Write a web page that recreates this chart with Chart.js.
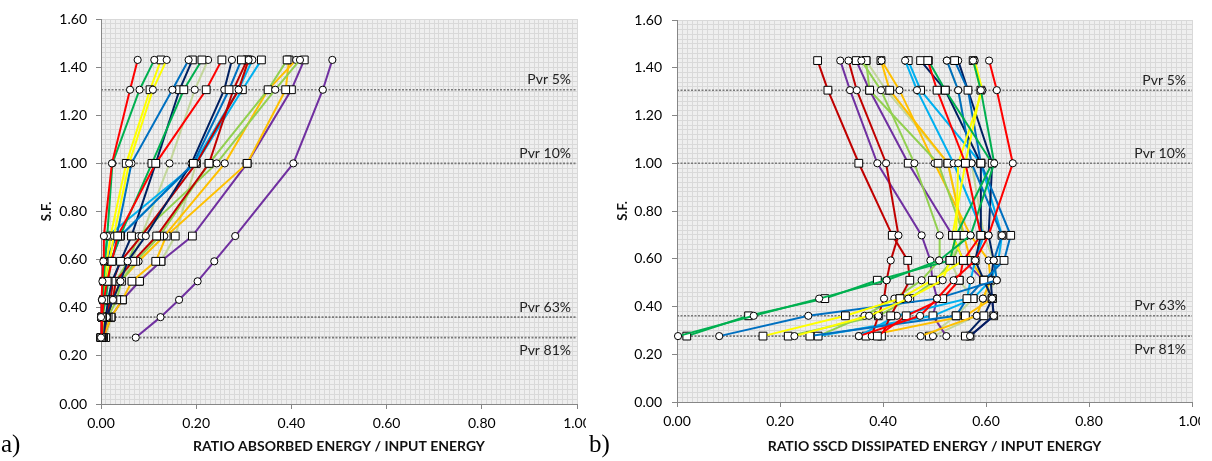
<!DOCTYPE html>
<html>
<head>
<meta charset="utf-8">
<script src="https://cdn.jsdelivr.net/npm/chart.js@4.4.1/dist/chart.umd.min.js"></script>
<style>
  body { margin: 0; background: #fff; width: 1212px; height: 461px; position: relative; overflow: hidden; }
  .box { position: absolute; top: 0; height: 461px; overflow: hidden; }
  #leftBox { left: 0; width: 586px; }
  #rightBox { left: 600px; width: 600px; }
  .tag { position: absolute; top: 430px; font-family: "Liberation Serif", serif; font-size: 25px; color: #000; }
</style>
</head>
<body>
<div class="box" id="leftBox"><canvas id="absorbedChart" width="600" height="461"></canvas></div>
<div class="box" id="rightBox"><canvas id="dissipatedChart" width="612" height="461"></canvas></div>
<div class="tag" style="left:1px">a)</div>
<div class="tag" style="left:589px">b)</div>
<script>
// S.F. levels of the analyses (y of every point)
const sfLevels = [0.276, 0.361, 0.433, 0.51, 0.593, 0.698, 1.0, 1.306, 1.43];

// probability of exceedance lines
const pvrLevels = [1.306, 1.0, 0.361, 0.276];
const pvrLabels = ["Pvr 5%", "Pvr 10%", "Pvr 63%", "Pvr 81%"];

// one colour / marker per structure
const seriesColor = [
  "#FF0000", "#FF0000", "#00B050", "#00B050", "#FFFF00", "#FFFF00",
  "#0070C0", "#0070C0", "#002060", "#002060", "#C00000", "#C00000",
  "#00B0F0", "#00B0F0", "#92D050", "#92D050", "#FFC000", "#FFC000",
  "#7030A0", "#7030A0", "#C3D69B", "#C3D69B"
];
const seriesMarker = seriesColor.map((_, i) => (i % 2 === 0 ? "circle" : "rect"));

// a) absorbed energy / input energy
const absorbedRatio = [
  [0.000, 0.000, 0.002, 0.003, 0.005, 0.006, 0.023, 0.061, 0.077],
  [0.000, 0.002, 0.006, 0.013, 0.023, 0.035, 0.115, 0.221, 0.254],
  [0.000, 0.002, 0.004, 0.006, 0.008, 0.013, 0.024, 0.081, 0.112],
  [0.000, 0.002, 0.010, 0.015, 0.021, 0.040, 0.107, 0.174, 0.212],
  [0.002, 0.004, 0.008, 0.012, 0.018, 0.027, 0.059, 0.109, 0.138],
  [0.000, 0.002, 0.005, 0.008, 0.012, 0.020, 0.053, 0.103, 0.126],
  [0.000, 0.000, 0.002, 0.006, 0.010, 0.033, 0.064, 0.150, 0.184],
  [0.000, 0.003, 0.008, 0.013, 0.020, 0.041, 0.194, 0.269, 0.295],
  [0.003, 0.012, 0.025, 0.041, 0.056, 0.094, 0.190, 0.259, 0.275],
  [0.003, 0.010, 0.015, 0.023, 0.041, 0.064, 0.115, 0.165, 0.192],
  [0.002, 0.010, 0.020, 0.025, 0.041, 0.085, 0.200, 0.289, 0.310],
  [0.005, 0.012, 0.025, 0.031, 0.067, 0.117, 0.227, 0.278, 0.307],
  [0.000, 0.002, 0.004, 0.008, 0.020, 0.040, 0.196, 0.289, 0.318],
  [0.000, 0.002, 0.005, 0.006, 0.008, 0.014, 0.200, 0.297, 0.337],
  [0.002, 0.012, 0.025, 0.031, 0.057, 0.079, 0.243, 0.366, 0.418],
  [0.003, 0.015, 0.033, 0.043, 0.073, 0.123, 0.227, 0.351, 0.391],
  [0.002, 0.012, 0.025, 0.041, 0.079, 0.133, 0.260, 0.351, 0.410],
  [0.005, 0.021, 0.045, 0.065, 0.115, 0.137, 0.307, 0.388, 0.395],
  [0.073, 0.125, 0.164, 0.203, 0.238, 0.282, 0.404, 0.466, 0.486],
  [0.005, 0.021, 0.045, 0.081, 0.126, 0.192, 0.307, 0.400, 0.427],
  [0.005, 0.012, 0.025, 0.043, 0.065, 0.085, 0.144, 0.197, 0.225],
  [0.010, 0.021, 0.045, 0.080, 0.126, 0.156, 0.200, 0.289, 0.310]
];

// b) SSCD dissipated energy / input energy
const dissipatedRatio = [
  [0.353, 0.472, 0.505, 0.537, 0.579, 0.605, 0.652, 0.621, 0.606],
  [0.389, 0.445, 0.516, 0.548, 0.556, 0.590, 0.560, 0.505, 0.487],
  [0.002, 0.149, 0.276, 0.407, 0.509, 0.570, 0.616, 0.590, 0.575],
  [0.019, 0.139, 0.287, 0.389, 0.530, 0.542, 0.612, 0.521, 0.488],
  [0.228, 0.373, 0.449, 0.516, 0.530, 0.542, 0.546, 0.593, 0.578],
  [0.167, 0.327, 0.433, 0.496, 0.556, 0.535, 0.560, 0.590, 0.575],
  [0.082, 0.255, 0.505, 0.621, 0.615, 0.631, 0.572, 0.546, 0.524],
  [0.258, 0.542, 0.563, 0.596, 0.635, 0.648, 0.590, 0.565, 0.539],
  [0.569, 0.615, 0.612, 0.609, 0.615, 0.605, 0.612, 0.565, 0.546],
  [0.560, 0.596, 0.612, 0.596, 0.579, 0.590, 0.590, 0.521, 0.473],
  [0.378, 0.391, 0.402, 0.407, 0.415, 0.430, 0.406, 0.349, 0.333],
  [0.397, 0.415, 0.433, 0.452, 0.448, 0.418, 0.353, 0.293, 0.273],
  [0.353, 0.427, 0.563, 0.570, 0.579, 0.596, 0.537, 0.466, 0.443],
  [0.274, 0.497, 0.575, 0.609, 0.624, 0.631, 0.590, 0.473, 0.449],
  [0.274, 0.364, 0.422, 0.475, 0.509, 0.510, 0.461, 0.396, 0.358],
  [0.216, 0.391, 0.452, 0.502, 0.535, 0.557, 0.507, 0.374, 0.367],
  [0.473, 0.582, 0.594, 0.609, 0.605, 0.570, 0.500, 0.432, 0.397],
  [0.367, 0.560, 0.612, 0.596, 0.570, 0.557, 0.526, 0.413, 0.396],
  [0.523, 0.497, 0.505, 0.496, 0.492, 0.475, 0.389, 0.336, 0.317],
  [0.569, 0.615, 0.612, 0.596, 0.556, 0.535, 0.449, 0.374, 0.348],
  [0.497, 0.582, 0.594, 0.621, 0.615, 0.596, 0.572, 0.546, 0.524],
  [0.490, 0.542, 0.575, 0.548, 0.530, 0.557, 0.526, 0.406, 0.367]
];

Chart.defaults.font.family = "Lato";
Chart.defaults.color = "#000";

// grey plot area like the spreadsheet
const plotBg = {
  id: "plotBg",
  beforeDraw(chart) {
    const { ctx, chartArea: a } = chart;
    ctx.save();
    ctx.fillStyle = "#efefef";
    ctx.fillRect(a.left, a.top, a.width, a.height);
    ctx.restore();
  }
};

// Pvr labels next to the dotted lines
const pvrText = {
  id: "pvrText",
  afterDatasetsDraw(chart) {
    const { ctx, chartArea, scales } = chart;
    ctx.save();
    ctx.font = "14px Lato";
    ctx.fillStyle = "#222";
    ctx.textAlign = "right";
    ctx.textBaseline = "middle";
    pvrLevels.forEach((lvl, i) => {
      const y = scales.y.getPixelForValue(lvl) + (i === 3 ? 13 : -10);
      ctx.fillText(pvrLabels[i], chartArea.right - 6, y);
    });
    ctx.restore();
  }
};

function buildDatasets(ratios) {
  const sets = ratios.map((row, i) => ({
    data: row.map((x, j) => ({ x: x, y: sfLevels[j] })),
    showLine: true,
    borderColor: seriesColor[i],
    borderWidth: 2,
    pointStyle: seriesMarker[i],
    pointRadius: seriesMarker[i] === "rect" ? 5.5 : 3.6,
    pointBackgroundColor: "#fff",
    pointBorderColor: "#000",
    pointBorderWidth: 1,
    clip: false
  }));
  // dotted Pvr lines go last so they sit under the series
  pvrLevels.forEach(lvl => {
    sets.push({
      data: [{ x: 0, y: lvl }, { x: 1, y: lvl }],
      showLine: true,
      borderColor: "#7a7a7a",
      borderWidth: 1.6,
      borderDash: [2, 1.5],
      pointRadius: 0
    });
  });
  return sets;
}

const isMajor = (v, every) => Math.abs(Math.round(v * 100) % every) === 0;

function makeChart(id, ratios, xTitle, lay) {
  return new Chart(document.getElementById(id).getContext("2d"), {
    type: "scatter",
    data: { datasets: buildDatasets(ratios) },
    options: {
      responsive: false,
      animation: false,
      devicePixelRatio: 1,
      layout: { padding: { left: 0, right: lay.right, top: lay.top, bottom: 0 } },
      plugins: { legend: { display: false }, tooltip: { enabled: false } },
      scales: {
        x: {
          type: "linear",
          min: 0,
          max: 1,
          afterFit: s => { s.height = lay.xHeight; },
          border: { color: "#868686", width: 1 },
          grid: {
            color: "#d9d9d9",
            tickLength: 5,
            tickColor: c => (isMajor(c.tick.value, 20) ? "#868686" : "rgba(0,0,0,0)")
          },
          ticks: {
            stepSize: 0.01,
            maxTicksLimit: 1000,
            autoSkip: false,
            maxRotation: 0,
            padding: 6,
            font: { size: 14 },
            callback: v => (isMajor(v, 20) ? v.toFixed(2) : "")
          },
          title: {
            display: true,
            text: xTitle,
            color: "#111",
            font: { size: 14, weight: "bold" },
            padding: { top: 0, bottom: 6 }
          }
        },
        y: {
          type: "linear",
          min: 0,
          max: 1.6,
          afterFit: s => { s.width = lay.yWidth; },
          border: { color: "#868686", width: 1 },
          grid: {
            color: "#d9d9d9",
            tickLength: 5,
            tickColor: c => (isMajor(c.tick.value, 20) ? "#868686" : "rgba(0,0,0,0)")
          },
          ticks: {
            stepSize: 0.02,
            maxTicksLimit: 1000,
            autoSkip: false,
            padding: lay.yPad,
            font: { size: 14 },
            callback: v => (isMajor(v, 20) ? v.toFixed(2) : "")
          },
          title: {
            display: true,
            text: "S.F.",
            color: "#111",
            font: { size: 13, weight: "bold" },
            padding: { top: lay.yTitle, bottom: 0 }
          }
        }
      }
    },
    plugins: [plotBg, pvrText]
  });
}

makeChart("absorbedChart", absorbedRatio, "RATIO ABSORBED ENERGY / INPUT ENERGY",
  { right: 23, top: 19, xHeight: 57, yWidth: 101, yPad: 9, yTitle: 39 });
makeChart("dissipatedChart", dissipatedRatio, "RATIO SSCD DISSIPATED ENERGY / INPUT ENERGY",
  { right: 20, top: 20, xHeight: 59, yWidth: 77, yPad: 10, yTitle: 15 });
</script>
</body>
</html>
